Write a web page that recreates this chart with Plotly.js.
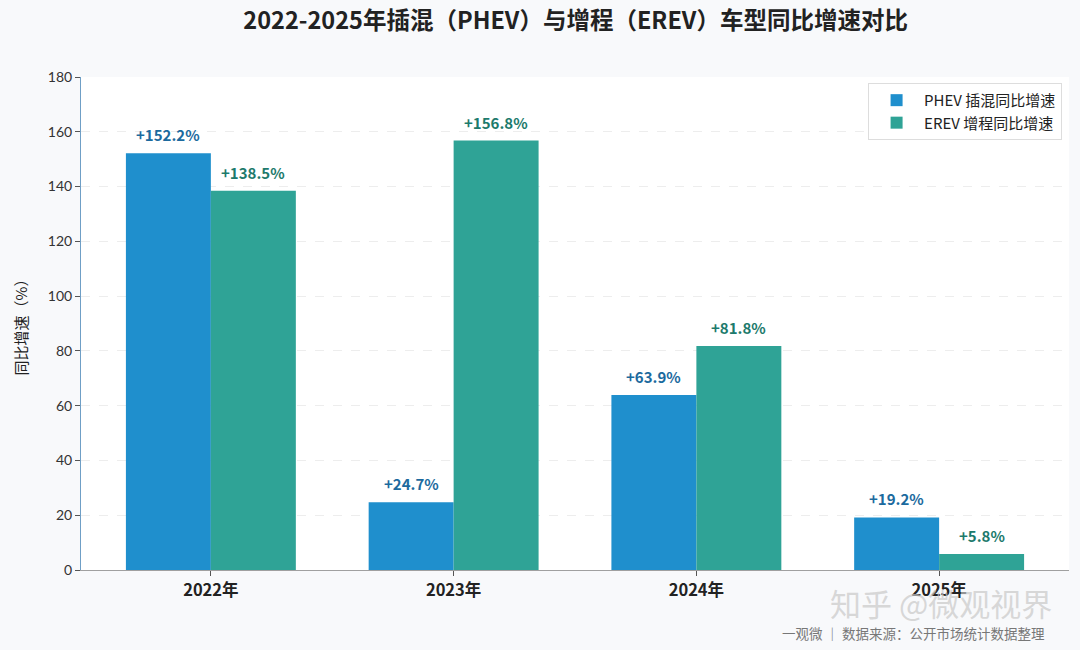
<!DOCTYPE html>
<html>
<head>
<meta charset="utf-8">
<script src="https://cdn.plot.ly/plotly-3.0.1.min.js"></script>
<style>
  body { margin: 0; background: #f8f9fb; }
  #chart { width: 1080px; height: 650px; }
</style>
</head>
<body>
<div id="chart"></div>
<script>
'use strict';

const years = ['2022年', '2023年', '2024年', '2025年'];
const phevGrowth = [152.2, 24.7, 63.9, 19.2];
const erevGrowth = [138.5, 156.8, 81.8, 5.8];
const yTicks = [0, 20, 40, 60, 80, 100, 120, 140, 160, 180];

const cjk = '"Noto Sans CJK SC", "Noto Sans", sans-serif';
const phevColor = '#1f8fcd';
const erevColor = '#2fa396';

const phev = {
    x: years,
    y: phevGrowth,
    type: 'bar',
    name: 'PHEV 插混同比增速',
    marker: { color: phevColor },
    hoverinfo: 'skip'
};

const erev = {
    x: years,
    y: erevGrowth,
    type: 'bar',
    name: 'EREV 增程同比增速',
    marker: { color: erevColor },
    hoverinfo: 'skip'
};

function valueLabel(x, y, shift, color) {
    return {
        x: x, y: y, xref: 'x', yref: 'y',
        text: '+' + y.toFixed(1) + '%',
        showarrow: false,
        xshift: shift, yshift: 6,
        yanchor: 'bottom',
        font: { family: cjk, size: 15, color: color, weight: 'bold' }
    };
}

const labels = [];
years.forEach((yr, i) => {
    labels.push(valueLabel(yr, phevGrowth[i], -42.5, '#1c6a9e'));
    labels.push(valueLabel(yr, erevGrowth[i], 42.5, '#1d7a6c'));
});

// watermark and source line under the plot
labels.push({
    text: '知乎 @微观视界',
    xref: 'paper', yref: 'paper', x: 0.985, y: -0.066,
    xanchor: 'right', yanchor: 'middle', showarrow: false,
    font: { family: cjk, size: 31, color: 'rgba(200,200,200,0.7)' }
});
labels.push({
    text: '一观微 ｜ 数据来源：公开市场统计数据整理',
    xref: 'paper', yref: 'paper', x: 0.978, y: -0.127,
    xanchor: 'right', yanchor: 'middle', showarrow: false,
    font: { family: cjk, size: 13.5, color: '#777' }
});

const layout = {
    width: 1080,
    height: 650,
    margin: { l: 81, r: 11, t: 77, b: 80 },
    paper_bgcolor: '#f8f9fb',
    plot_bgcolor: '#ffffff',
    barmode: 'group',
    bargap: 0.3,
    bargroupgap: 0,
    title: {
        text: '2022-2025年插混（PHEV）与增程（EREV）车型同比增速对比',
        x: 0.533, xanchor: 'center', y: 0.968, yanchor: 'middle',
        font: { family: cjk, size: 23.5, color: '#222', weight: 'bold' }
    },
    xaxis: {
        type: 'category',
        range: [-0.535, 3.535],
        showline: true,
        linecolor: '#a0a0a0',
        linewidth: 1,
        ticks: 'outside',
        ticklen: 5,
        tickcolor: '#555',
        tickfont: { family: cjk, size: 16.5, color: '#222', weight: 'bold' },
        showgrid: false,
        zeroline: false
    },
    yaxis: {
        range: [0, 180],
        tickvals: yTicks,
        showline: true,
        linecolor: '#6f9fc6',
        linewidth: 1,
        ticks: 'outside',
        ticklen: 5,
        tickcolor: '#555',
        tickfont: { family: 'Lato, "Open Sans", sans-serif', size: 14, color: '#333' },
        showgrid: true,
        gridcolor: '#ededed',
        griddash: 'dash',
        zeroline: false,
        title: {
            text: '同比增速（%）',
            standoff: 16,
            font: { family: cjk, size: 15, color: '#222' }
        }
    },
    legend: {
        x: 0.993, y: 0.988, xanchor: 'right', yanchor: 'top',
        bgcolor: '#ffffff',
        bordercolor: '#dddddd',
        borderwidth: 1,
        font: { family: cjk, size: 15, color: '#222' },
        itemwidth: 45,
        tracegroupgap: 2
    },
    annotations: labels,
    hovermode: false
};

Plotly.newPlot('chart', [phev, erev], layout, { displayModeBar: false, staticPlot: true });
</script>
</body>
</html>
